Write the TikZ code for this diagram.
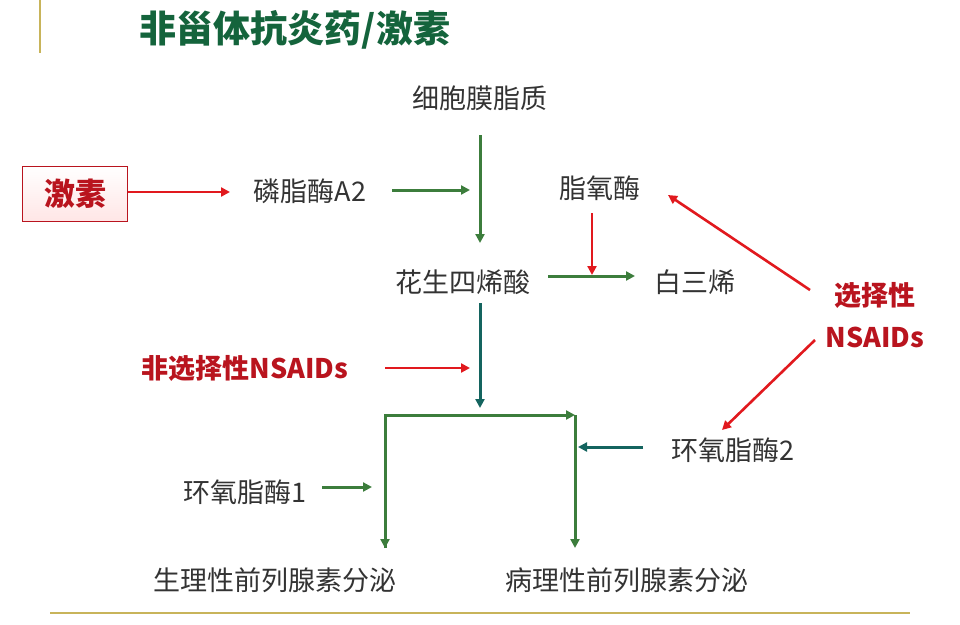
\documentclass[tikz,border=0pt]{standalone}
\usepackage{fontspec}
\setmainfont{Noto Sans CJK SC}
\usetikzlibrary{arrows.meta}
\definecolor{tgreen}{RGB}{20,100,60}
\definecolor{agreen}{RGB}{60,125,60}
\definecolor{ateal}{RGB}{20,100,95}
\definecolor{ared}{RGB}{225,25,30}
\definecolor{tred}{RGB}{185,20,30}
\definecolor{olive}{RGB}{200,180,90}
\tikzset{
 txt/.style={font=\fontsize{27}{27}\selectfont, text=black!80, inner sep=1pt},
 rtxt/.style={font=\fontsize{27}{27}\selectfont\bfseries, text=tred, inner sep=1pt},
 ga/.style={draw=agreen, line width=3pt, -{Triangle[length=9pt,width=9pt]}},
 ta/.style={draw=ateal, line width=3pt, -{Triangle[length=9pt,width=9pt]}},
 ra/.style={draw=ared, line width=2.6pt, -{Triangle[length=9pt,width=9pt]}},
}
\begin{document}
\begin{tikzpicture}[x=1pt,y=-1pt]
\useasboundingbox (0,0) rectangle (960,624);
\draw[olive, line width=2pt] (40,0) -- (40,53);
\draw[olive, line width=2pt] (50,613) -- (910,613);
\node[font=\fontsize{37}{37}\selectfont\bfseries, text=tgreen] (title) at (295,30) {非甾体抗炎药/激素};
\node[txt] (cm) at (480,98) {细胞膜脂质};
\node[draw=tred, line width=1.5pt, top color=white, bottom color=red!10, minimum width=105pt, minimum height=55pt, font=\fontsize{31}{31}\selectfont\bfseries, text=tred] (js) at (75,194) {激素};
\node[txt] (pla) at (310,191) {磷脂酶A2};
\node[txt] (lox) at (600,188) {脂氧酶};
\node[txt] (aa) at (463,282) {花生四烯酸};
\node[txt] (lt) at (695,282) {白三烯};
\node[rtxt] (sel) at (875,295) {选择性};
\node[rtxt] (nsa) at (875,337) {NSAIDs};
\node[rtxt] (nsel) at (245,368) {非选择性NSAIDs};
\node[txt] (cox2) at (733,450) {环氧脂酶2};
\node[txt] (cox1) at (245,492) {环氧脂酶1};
\node[txt] (phys) at (275,580) {生理性前列腺素分泌};
\node[txt] (path) at (627,580) {病理性前列腺素分泌};
\coordinate (c1) at (480,135); \coordinate (c2) at (480,243);
\coordinate (j1) at (128,192); \coordinate (j2) at (230,192);
\coordinate (p1) at (392,190); \coordinate (p2) at (470,190);
\coordinate (l1) at (592,213); \coordinate (l2) at (592,275);
\coordinate (a1) at (548,276); \coordinate (a2) at (635,276);
\coordinate (t1) at (480,303); \coordinate (t2) at (480,408);
\coordinate (n1) at (385,368); \coordinate (n2) at (470,368);
\coordinate (bl) at (385,415); \coordinate (br) at (575,415);
\coordinate (bl2) at (385,548); \coordinate (br2) at (575,548);
\coordinate (x3) at (643,447); \coordinate (x2) at (578,447);
\coordinate (x0) at (322,487); \coordinate (x1) at (372,487);
\coordinate (s1) at (810,290); \coordinate (s2) at (668,195);
\coordinate (s3) at (815,340); \coordinate (s4) at (722,430);
\draw[ga] (c1) -- (c2);
\draw[ra] (j1) -- (j2);
\draw[ga] (p1) -- (p2);
\draw[ra] (l1) -- (l2);
\draw[ga] (a1) -- (a2);
\draw[ta] (t1) -- (t2);
\draw[ra] (n1) -- (n2);
\draw[ra] (s1) -- (s2);
\draw[ra] (s3) -- (s4);
\draw[ga] (bl2) -- (bl) -- (br);
\draw[ga] (bl) -- (bl2);
\draw[ga] (br) -- (br2);
\draw[ta] (x3) -- (x2);
\draw[ga] (x0) -- (x1);
\end{tikzpicture}
\end{document}
